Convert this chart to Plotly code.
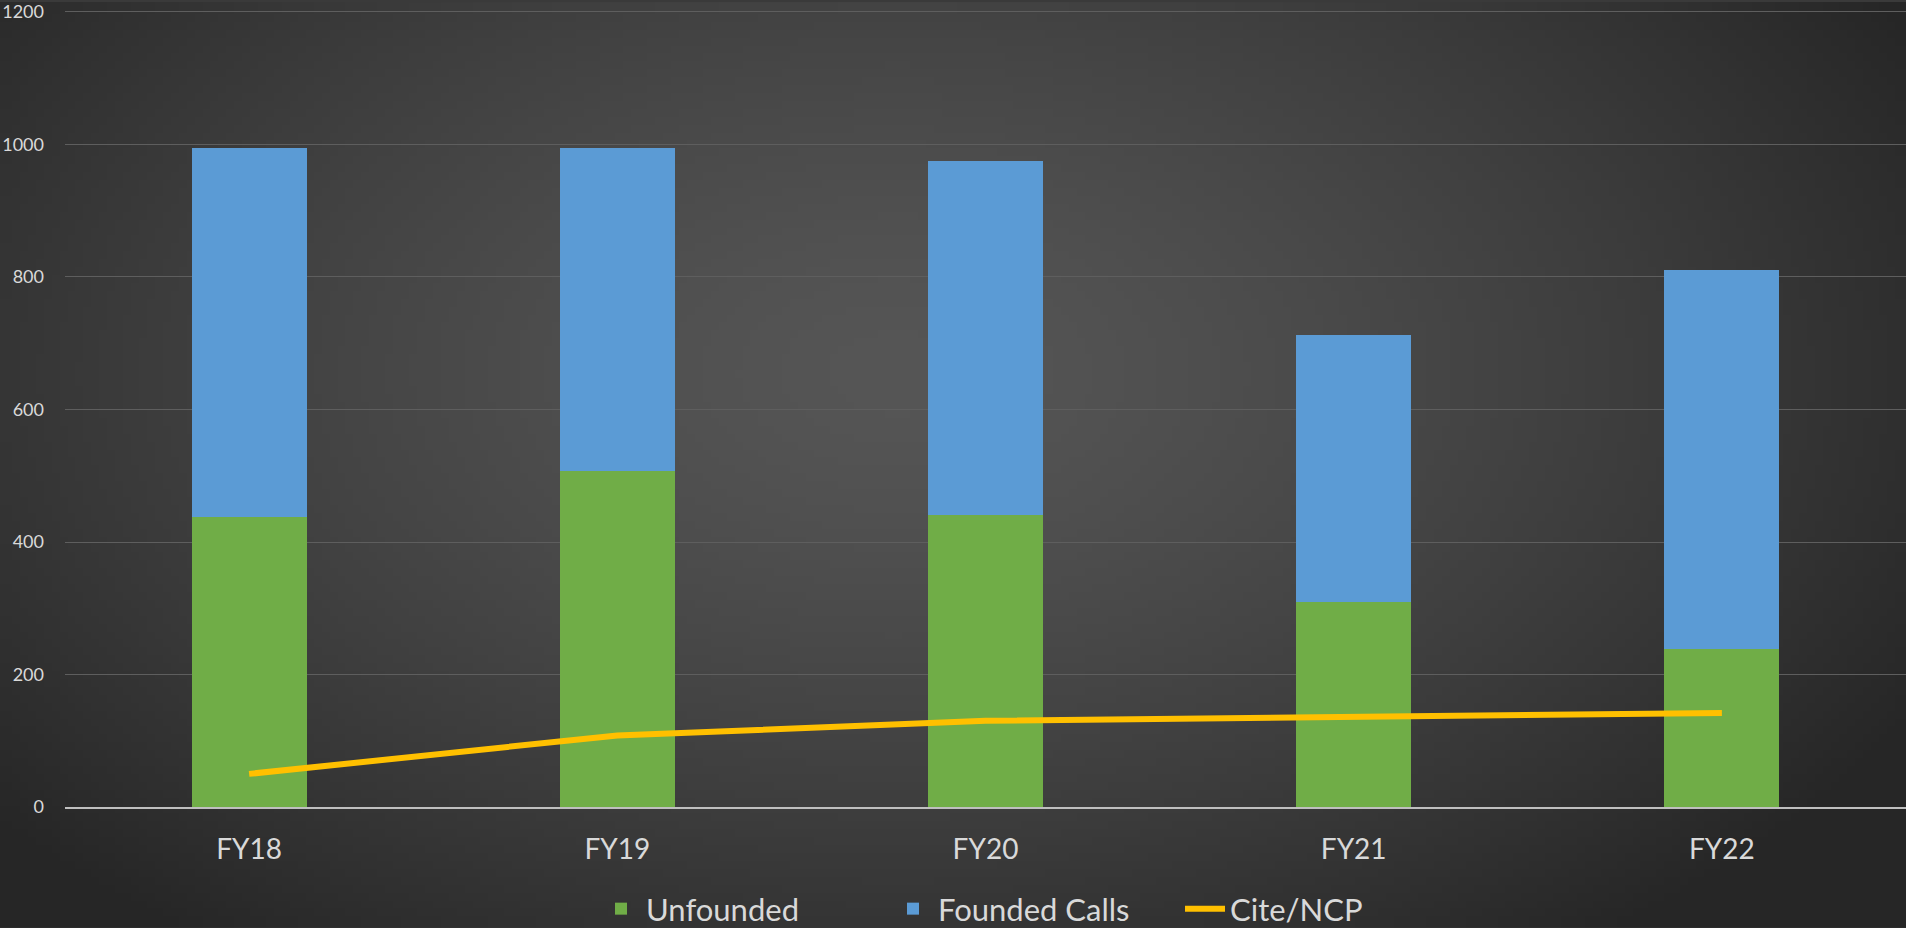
import base64
import struct
import zlib

import numpy as np
import plotly.graph_objects as go

# ---------------- data ----------------
categories = ["FY18", "FY19", "FY20", "FY21", "FY22"]
unfounded = [437, 507, 441, 310, 239]
founded_calls = [558, 488, 534, 402, 571]
cite_ncp = [50, 108, 130, 136, 142]
y_ticks = [0, 200, 400, 600, 800, 1000, 1200]

# ---------------- background gradient (style only) ----------------
W, H = 1906, 928
gw, gh = 240, 117
xs = np.linspace(0, 1, gw)[None, :]
ys = np.linspace(0, 1, gh)[:, None]
r = np.sqrt(((xs - 0.47) / 0.62) ** 2 + ((ys - 0.40) / 0.78) ** 2)
r = np.clip(r, 0, 1)
c_center, c_edge = 86.0, 38.0
val = c_edge + (c_center - c_edge) * (1 - r ** 1.4)
img = np.repeat(val[:, :, None], 3, axis=2).astype(np.uint8)


def to_png(a):
    h, w, _ = a.shape
    raw = b"".join(b"\x00" + a[i].tobytes() for i in range(h))

    def chunk(tag, data):
        c = struct.pack(">I", len(data)) + tag + data
        return c + struct.pack(">I", zlib.crc32(tag + data) & 0xFFFFFFFF)

    return (b"\x89PNG\r\n\x1a\n"
            + chunk(b"IHDR", struct.pack(">IIBBBBB", w, h, 8, 2, 0, 0, 0))
            + chunk(b"IDAT", zlib.compress(raw, 9))
            + chunk(b"IEND", b""))


bg_uri = "data:image/png;base64," + base64.b64encode(to_png(img)).decode()

# ---------------- figure ----------------
ml, mr, mt, mb = 65, 0, 8, 121
pw, ph = W - ml - mr, H - mt - mb

FONT = "Lato"
fig = go.Figure()
fig.add_trace(go.Bar(
    x=categories, y=unfounded, name="Unfounded",
    marker=dict(color="#70ad47", line=dict(width=0)),
))
fig.add_trace(go.Bar(
    x=categories, y=founded_calls, name="Founded Calls",
    marker=dict(color="#5b9bd5", line=dict(width=0)),
))
fig.add_trace(go.Scatter(
    x=categories, y=cite_ncp, name="Cite/NCP", mode="lines",
    line=dict(color="#ffc000", width=6),
))

fig.update_layout(
    width=W, height=H,
    margin=dict(l=ml, r=mr, t=mt, b=mb, pad=0),
    barmode="stack",
    bargap=0.6875,
    paper_bgcolor="#3a3a3a",
    plot_bgcolor="rgba(0,0,0,0)",
    font=dict(family=FONT, color="#d9d9d9"),
    images=[dict(
        source=bg_uri, xref="paper", yref="paper",
        x=-ml / pw, y=1 + mt / ph, sizex=W / pw, sizey=H / ph,
        xanchor="left", yanchor="top", sizing="stretch", layer="below",
    )],
    xaxis=dict(
        showgrid=False, showline=True, linecolor="#bfbfbf", linewidth=2,
        tickfont=dict(size=28, color="#d9d9d9", family=FONT),
        ticks="", ticklabelstandoff=16, zeroline=False,
    ),
    yaxis=dict(
        range=[0, 1203], tickvals=y_ticks,
        showgrid=True, gridcolor="#5e5e5e", gridwidth=1,
        zeroline=False, showline=False,
        tickfont=dict(size=18, color="#d9d9d9", family=FONT),
        ticks="", ticklabelstandoff=20, ticklabeloverflow="allow",
    ),
    legend=dict(
        orientation="h", xref="container", yref="container",
        x=596 / W, xanchor="left", y=1 - 909 / H, yanchor="middle",
        font=dict(size=31, color="#d9d9d9", family=FONT),
        bgcolor="rgba(0,0,0,0)", itemwidth=40,
        entrywidth=237, entrywidthmode="pixels",
        traceorder="normal",
    ),
    showlegend=True,
)

fig.write_html(
    "out.html",
    config={"displayModeBar": False},
    post_script="document.body.style.margin='0';document.body.style.overflow='hidden';",
)
